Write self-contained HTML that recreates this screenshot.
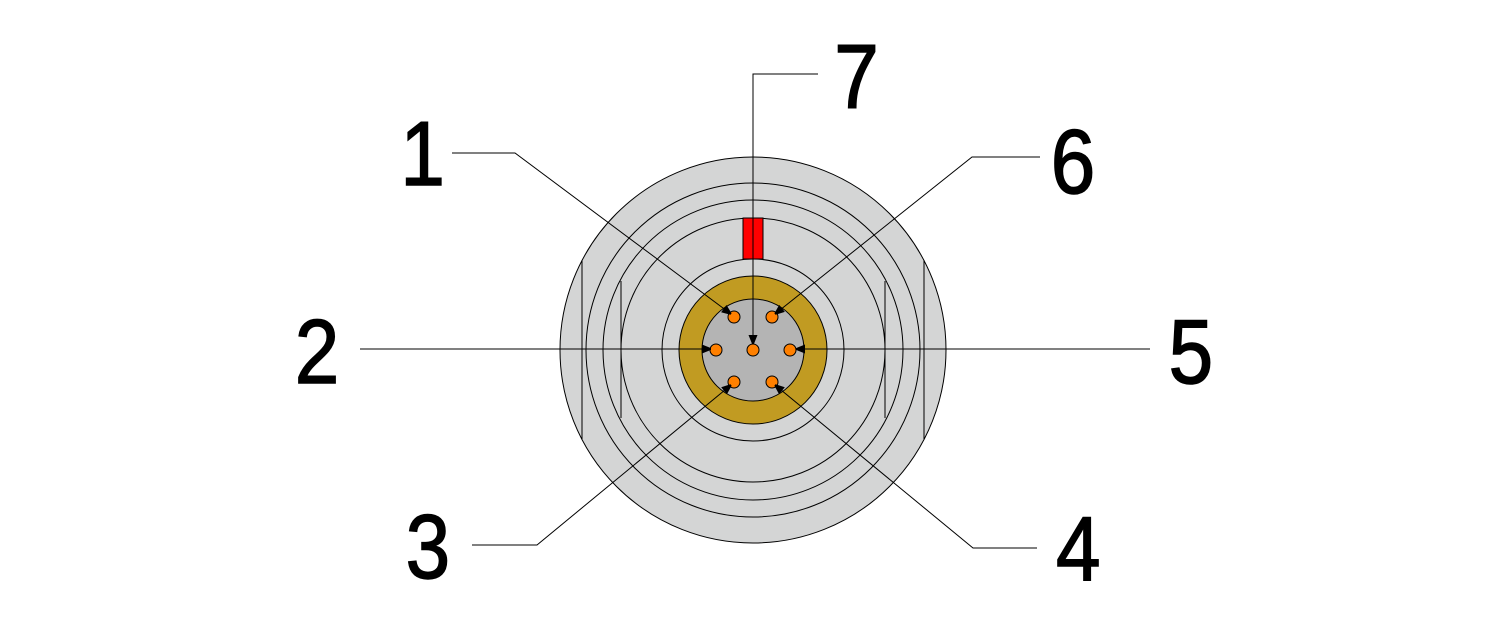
<!DOCTYPE html>
<html><head><meta charset="utf-8"><style>
html,body{margin:0;padding:0;background:#fff;}
svg{display:block;}
text{font-family:"Liberation Sans",sans-serif;font-size:91px;fill:#000;stroke:#000;stroke-width:1.5px;}
</style></head><body>
<svg width="1496" height="629" viewBox="0 0 1496 629" xmlns="http://www.w3.org/2000/svg">
<defs>
<marker id="a" viewBox="0 0 10 10" refX="10" refY="5" markerWidth="14" markerHeight="9" markerUnits="userSpaceOnUse" orient="auto"><path d="M0,0 L10,4 L10,6 L0,10 z" fill="#000"/></marker>
</defs>
<g stroke="#000" stroke-width="1">
<circle cx="753" cy="350" r="193" fill="#d4d5d5"/>
<line x1="582" y1="260" x2="582" y2="439"/>
<line x1="924" y1="260" x2="924" y2="439"/>
<circle cx="753" cy="350" r="167" fill="none"/>
<circle cx="753" cy="350" r="150" fill="none"/>
<circle cx="753" cy="350" r="132" fill="none"/>
<line x1="621" y1="281" x2="621" y2="418"/>
<line x1="885" y1="281" x2="885" y2="418"/>
<rect x="743" y="218" width="20" height="41" fill="#ff0000"/>
<circle cx="753" cy="350" r="91" fill="none"/>
<circle cx="753" cy="350" r="74" fill="#c19b22"/>
<circle cx="753" cy="350" r="51" fill="#b4b4b4"/>
<g fill="#ff8000">
<circle cx="753" cy="350" r="6"/>
<circle cx="734" cy="317" r="6"/>
<circle cx="772" cy="317" r="6"/>
<circle cx="716" cy="350" r="6"/>
<circle cx="790" cy="350" r="6"/>
<circle cx="734" cy="382" r="6"/>
<circle cx="772" cy="382" r="6"/>
</g>
<g fill="none">
<polyline points="452,153 515,153 731,314" marker-end="url(#a)"/>
<polyline points="818,74 753,74 753,344" marker-end="url(#a)"/>
<polyline points="1040,157 972,157 775,314" marker-end="url(#a)"/>
<polyline points="360,349 711,349" marker-end="url(#a)"/>
<polyline points="1150,349 796,349" marker-end="url(#a)"/>
<polyline points="472,545 537,545 731,385" marker-end="url(#a)"/>
<polyline points="1037,548 973,548 775,385" marker-end="url(#a)"/>
</g>
</g>
<g transform="scale(0.88,1)">
<text x="455" y="185">1</text>
<text x="948" y="108">7</text>
<text x="1194" y="193">6</text>
<text x="335" y="383">2</text>
<text x="1328" y="383">5</text>
<text x="461" y="578">3</text>
<text x="1200" y="580">4</text>
</g>
</svg>
</body></html>
